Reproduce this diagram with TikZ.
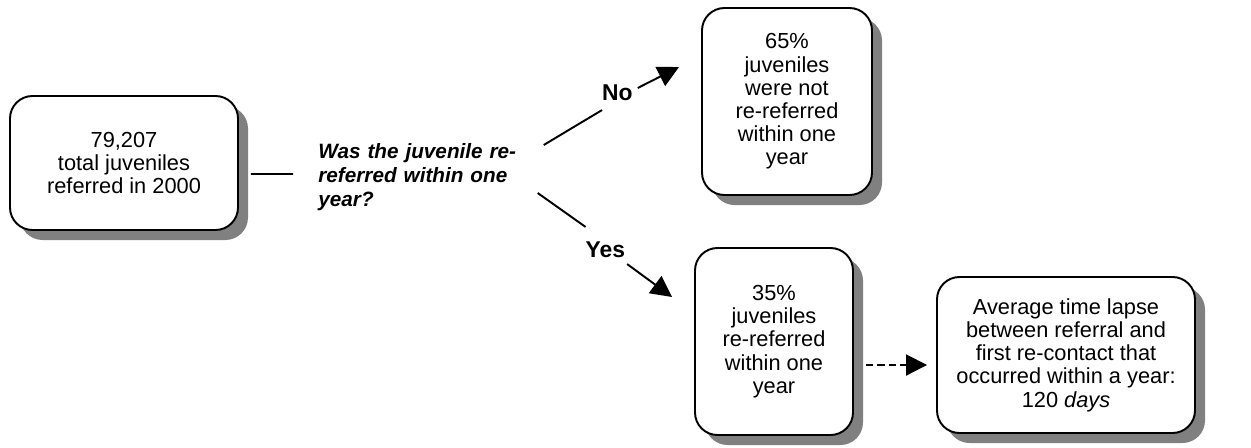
\documentclass[tikz,border=0pt]{standalone}
\usepackage{fontspec}
\setmainfont{Liberation Sans}
\usepackage{tikz}
\usetikzlibrary{positioning}
\usetikzlibrary{arrows.meta}
\usetikzlibrary{shadows}
\tikzstyle{block} = [rectangle, rounded corners=0.45cm, draw=black, line width=1.1pt, fill=white, align=center, inner sep=0pt, font=\fontsize{12.4}{13.2}\selectfont, drop shadow={shadow xshift=0.2cm, shadow yshift=-0.2cm, fill=black!50, opacity=1}]
\tikzstyle{decision} = [text width=4.1cm, align=left, inner sep=0pt, font=\fontsize{11.8}{13.7}\selectfont\bfseries\itshape]
\tikzstyle{branch} = [inner sep=1pt, font=\fontsize{13}{15}\selectfont\bfseries]
\tikzstyle{link} = [line width=1.1pt]
\tikzstyle{arrow} = [line width=1.1pt, -{Triangle[length=0.42cm, width=0.42cm]}]
\tikzstyle{dasharrow} = [arrow, dash pattern=on 0.15cm off 0.08cm]
\begin{document}
\begin{tikzpicture}[node distance=1cm]
        \useasboundingbox (-2.48,3.26) rectangle (22.54,-5.68);
        \node (start) [block, minimum width=4.56cm, minimum height=2.68cm] {79,207\\total juveniles\\referred in 2000};
        \node (question) [decision, right of=start, anchor=west, xshift=2.88cm, yshift=-0.28cm] {Was the juvenile re-\\referred within one\\year?};
        \node (no) [branch, right of=question, xshift=2.93cm, yshift=1.68cm] {No};
        \node (yes) [branch, right of=question, xshift=2.69cm, yshift=-1.46cm] {Yes};
        \node (notre) [block, right of=start, xshift=12.26cm, yshift=1.23cm, minimum width=3.4cm, minimum height=3.74cm] {65\%\\juveniles\\were not\\re-referred\\within one\\year};
        \node (re) [block, below of=notre, xshift=-0.26cm, yshift=-3.8cm, minimum width=3.16cm, minimum height=3.74cm] {35\%\\juveniles\\re-referred\\within one\\year};
        \node (lapse) [block, right of=re, xshift=4.84cm, yshift=-0.27cm, minimum width=5.16cm, minimum height=3.12cm] {Average time lapse\\between referral and\\first re-contact that\\occurred within a year:\\120 \textit{days}};

        \draw [link] ([xshift=0.24cm, yshift=-0.22cm]start.east) -- ([xshift=-0.5cm, yshift=0.06cm]question.west);
        \draw [link] ([xshift=0.4cm, yshift=0.64cm]question.east) -- ([xshift=0.04cm, yshift=-0.14cm]no.south west);
        \draw [arrow] ([xshift=0.06cm, yshift=0.1cm]no.east) -- ([xshift=-0.44cm, yshift=0.69cm]notre.west);
        \draw [link] ([xshift=0.28cm, yshift=-0.32cm]question.east) -- ([xshift=0.04cm, yshift=0.26cm]yes.north west);
        \draw [arrow] ([yshift=-0.08cm]yes.south east) -- ([xshift=-0.44cm, yshift=0.89cm]re.west);
        \draw [dasharrow] ([xshift=0.24cm, yshift=-0.47cm]re.east) -- ([xshift=-0.18cm, yshift=-0.2cm]lapse.west);
    \end{tikzpicture}
\end{document}
